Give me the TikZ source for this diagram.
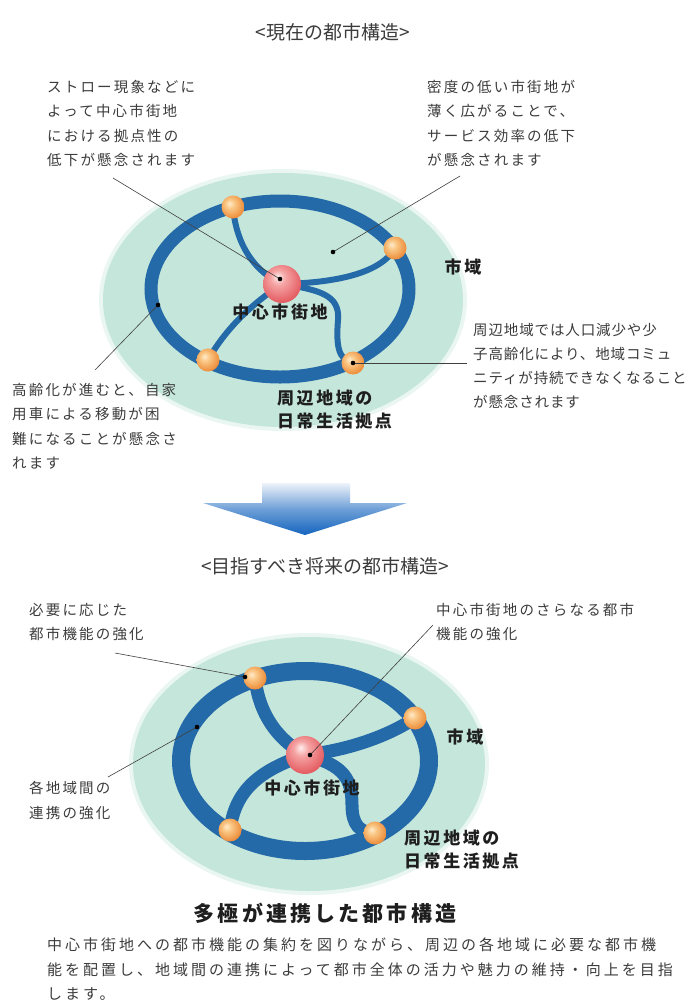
\documentclass[tikz,border=0pt]{standalone}
\usepackage{fontspec}
\newfontfamily\jp{Noto Sans CJK JP}
\newfontfamily\jpbody[LetterSpace=15]{Noto Sans CJK JP}
\newfontfamily\jpnarrow[LetterSpace=6]{Noto Sans CJK JP}
\newfontfamily\jppara[LetterSpace=20]{Noto Sans CJK JP}
\newfontfamily\jplab[LetterSpace=15]{Noto Sans CJK JP}
\definecolor{ringblue}{RGB}{36,106,168}
\definecolor{areagreen}{RGB}{197,230,218}
\definecolor{txt}{RGB}{60,60,60}
\definecolor{lab}{RGB}{30,30,30}
\definecolor{arrtop}{RGB}{238,242,250}
\definecolor{arrmid}{RGB}{110,160,215}
\definecolor{arrbot}{RGB}{20,100,190}
\pgfdeclareradialshading{orangeball}{\pgfpoint{-8bp}{8bp}}{%
  rgb(0bp)=(1,0.92,0.80);
  rgb(10bp)=(0.98,0.78,0.52);
  rgb(28bp)=(0.93,0.56,0.24);
  rgb(42bp)=(0.82,0.42,0.14);
  rgb(60bp)=(0.82,0.42,0.14)}
\pgfdeclareradialshading{redball}{\pgfpoint{-6bp}{10bp}}{%
  rgb(0bp)=(1,0.93,0.93);
  rgb(10bp)=(0.96,0.64,0.64);
  rgb(28bp)=(0.90,0.38,0.40);
  rgb(42bp)=(0.80,0.26,0.30);
  rgb(60bp)=(0.80,0.26,0.30)}
\tikzset{
  area/.style={fill=areagreen},
  areaglow/.style={fill=areagreen,opacity=0.35},
  ringA/.style={draw=ringblue,line width=13pt},
  ringB/.style={draw=ringblue,line width=18pt},
  spokeA/.style={draw=ringblue,line width=6pt},
  spokeB/.style={draw=ringblue,line width=13pt},
  oball/.style={circle,inner sep=0pt,minimum size=23pt,shading=orangeball},
  rball/.style={circle,inner sep=0pt,minimum size=38pt,shading=redball},
  dot/.style={fill=black},
  lead/.style={draw=black!75,line width=0.6pt},
  body/.style={text=txt,font=\jpbody\fontsize{14.5}{24.5}\selectfont,align=left,inner sep=0pt,anchor=north west},
  bodyn/.style={text=txt,font=\jpnarrow\fontsize{14.5}{24}\selectfont,align=left,inner sep=0pt,anchor=north west},
  para/.style={text=txt,font=\jppara\fontsize{15}{24.5}\selectfont,align=left,inner sep=0pt,anchor=north west},
  title/.style={text=txt,font=\jp\fontsize{19}{22}\selectfont,inner sep=0pt},
  lab/.style={text=lab,font=\jplab\bfseries\fontsize{17}{23}\selectfont,align=left,inner sep=0pt},
  bigtitle/.style={text=lab,font=\jplab\bfseries\fontsize{21}{24}\selectfont,inner sep=0pt},
}
\begin{document}
\begin{tikzpicture}[x=1pt,y=-1pt]
\useasboundingbox (0,0) rectangle (689,1005);
\fill[white] (0,0) rectangle (689,1005);

% ================= TOP DIAGRAM =================
\node[title] (t1) at (333,32) {<現在の都市構造>};

\fill[areaglow] (283,300) ellipse [x radius=184, y radius=131];
\fill[area] (283,300) ellipse [x radius=180, y radius=127];
\draw[ringA] (280,289) ellipse [x radius=129, y radius=88];

\coordinate (tl) at (233,207);
\coordinate (tr) at (395,248);
\coordinate (bl) at (208,360);
\coordinate (br) at (353,363);
\coordinate (cc) at (282,284);

\draw[spokeA] (tl) .. controls (236,245) and (255,272) .. (cc);
\draw[spokeA] (tr) .. controls (380,275) and (330,283) .. (cc);
\draw[spokeA] (cc) .. controls (250,305) and (225,330) .. (bl);
\draw[spokeA] (cc) .. controls (320,290) and (340,295) .. (338,320)
                   .. controls (336,345) and (338,360) .. (br);

\node[oball] (tlb) at (tl) {};
\node[oball] (trb) at (tr) {};
\node[oball] (blb) at (bl) {};
\node[oball] (brb) at (br) {};
\node[rball] (ccb) at (cc) {};

\node[lab,anchor=center] (cl) at (280,312) {中心市街地};
\node[lab,anchor=center] (sa) at (463,267) {市域};
\node[lab,anchor=north west] (sh) at (277,390) {周辺地域の\\日常生活拠点};

% annotation texts
\node[body] (a1) at (47,80) {ストロー現象などに\\よって中心市街地\\における拠点性の\\低下が懸念されます};
\node[body] (a2) at (427,80) {密度の低い市街地が\\薄く広がることで、\\サービス効率の低下\\が懸念されます};
\node[body] (a3) at (12,383) {高齢化が進むと、自家\\用車による移動が困\\難になることが懸念さ\\れます};
\node[bodyn] (a4) at (473,323) {周辺地域では人口減少や少\\子高齢化により、地域コミュ\\ニティが持続できなくなること\\が懸念されます};

\coordinate (d1) at (280,279);
\coordinate (d2) at (333,252);
\coordinate (d3) at (158,305);
\coordinate (d4) at (353,363);
\coordinate (e1) at (113,178);
\coordinate (e2) at (460,176);
\coordinate (e3) at (95,370);
\coordinate (e4) at (467,363);

\draw[lead] (e1) -- (d1);
\draw[lead] (e2) -- (d2);
\draw[lead] (e3) -- (d3);
\draw[lead] (e4) -- (d4);
\foreach \d in {d1,d2,d3,d4} \fill[dot] (\d) circle (2.3);

% ================= ARROW =================
\shade[top color=arrtop, bottom color=arrbot, middle color=arrmid]
  (262,483) -- (350,483) -- (350,503) -- (407,503) -- (305,535)
  -- (203,503) -- (262,503) -- cycle;

% ================= BOTTOM DIAGRAM =================
\node[title] (t2) at (325,566) {<目指すべき将来の都市構造>};

\fill[areaglow] (309,764) ellipse [x radius=180, y radius=131];
\fill[area] (309,764) ellipse [x radius=176, y radius=127];
\draw[ringB] (305,761) ellipse [x radius=124, y radius=90];

\coordinate (tl2) at (255,678);
\coordinate (tr2) at (415,718);
\coordinate (bl2) at (230,830);
\coordinate (br2) at (375,833);
\coordinate (cc2) at (305,755);

\draw[spokeB] (tl2) .. controls (258,705) and (270,735) .. (cc2);
\draw[spokeB] (tr2) .. controls (390,735) and (350,750) .. (cc2);
\draw[spokeB] (cc2) .. controls (260,770) and (235,790) .. (bl2);
\draw[spokeB] (cc2) .. controls (345,765) and (352,780) .. (352,805)
                    .. controls (352,825) and (360,833) .. (br2);

\node[oball] (tl2b) at (tl2) {};
\node[oball] (tr2b) at (tr2) {};
\node[oball] (bl2b) at (bl2) {};
\node[oball] (br2b) at (br2) {};
\node[rball] (cc2b) at (cc2) {};

\node[lab,anchor=center] (cl2) at (312,788) {中心市街地};
\node[lab,anchor=center] (sa2) at (465,737) {市域};
\node[lab,anchor=north west] (sh2) at (404,830) {周辺地域の\\日常生活拠点};

\node[body] (b1) at (29,603) {必要に応じた\\都市機能の強化};
\node[body] (b2) at (436,603) {中心市街地のさらなる都市\\機能の強化};
\node[body] (b3) at (29,781) {各地域間の\\連携の強化};

\coordinate (f1) at (245,677);
\coordinate (f2) at (310,755);
\coordinate (f3) at (197,727);
\coordinate (g1) at (115,653);
\coordinate (g2) at (433,625);
\coordinate (g3) at (108,777);
\draw[lead] (g1) -- (f1);
\draw[lead] (g2) -- (f2);
\draw[lead] (g3) -- (f3);
\foreach \d in {f1,f2,f3} \fill[dot] (\d) circle (2.3);

\node[bigtitle] (bt) at (325,913) {多極が連携した都市構造};
\node[para] (pp) at (47,938) {中心市街地への都市機能の集約を図りながら、周辺の各地域に必要な都市機\\能を配置し、地域間の連携によって都市全体の活力や魅力の維持・向上を目指\\します。};
\end{tikzpicture}
\end{document}
